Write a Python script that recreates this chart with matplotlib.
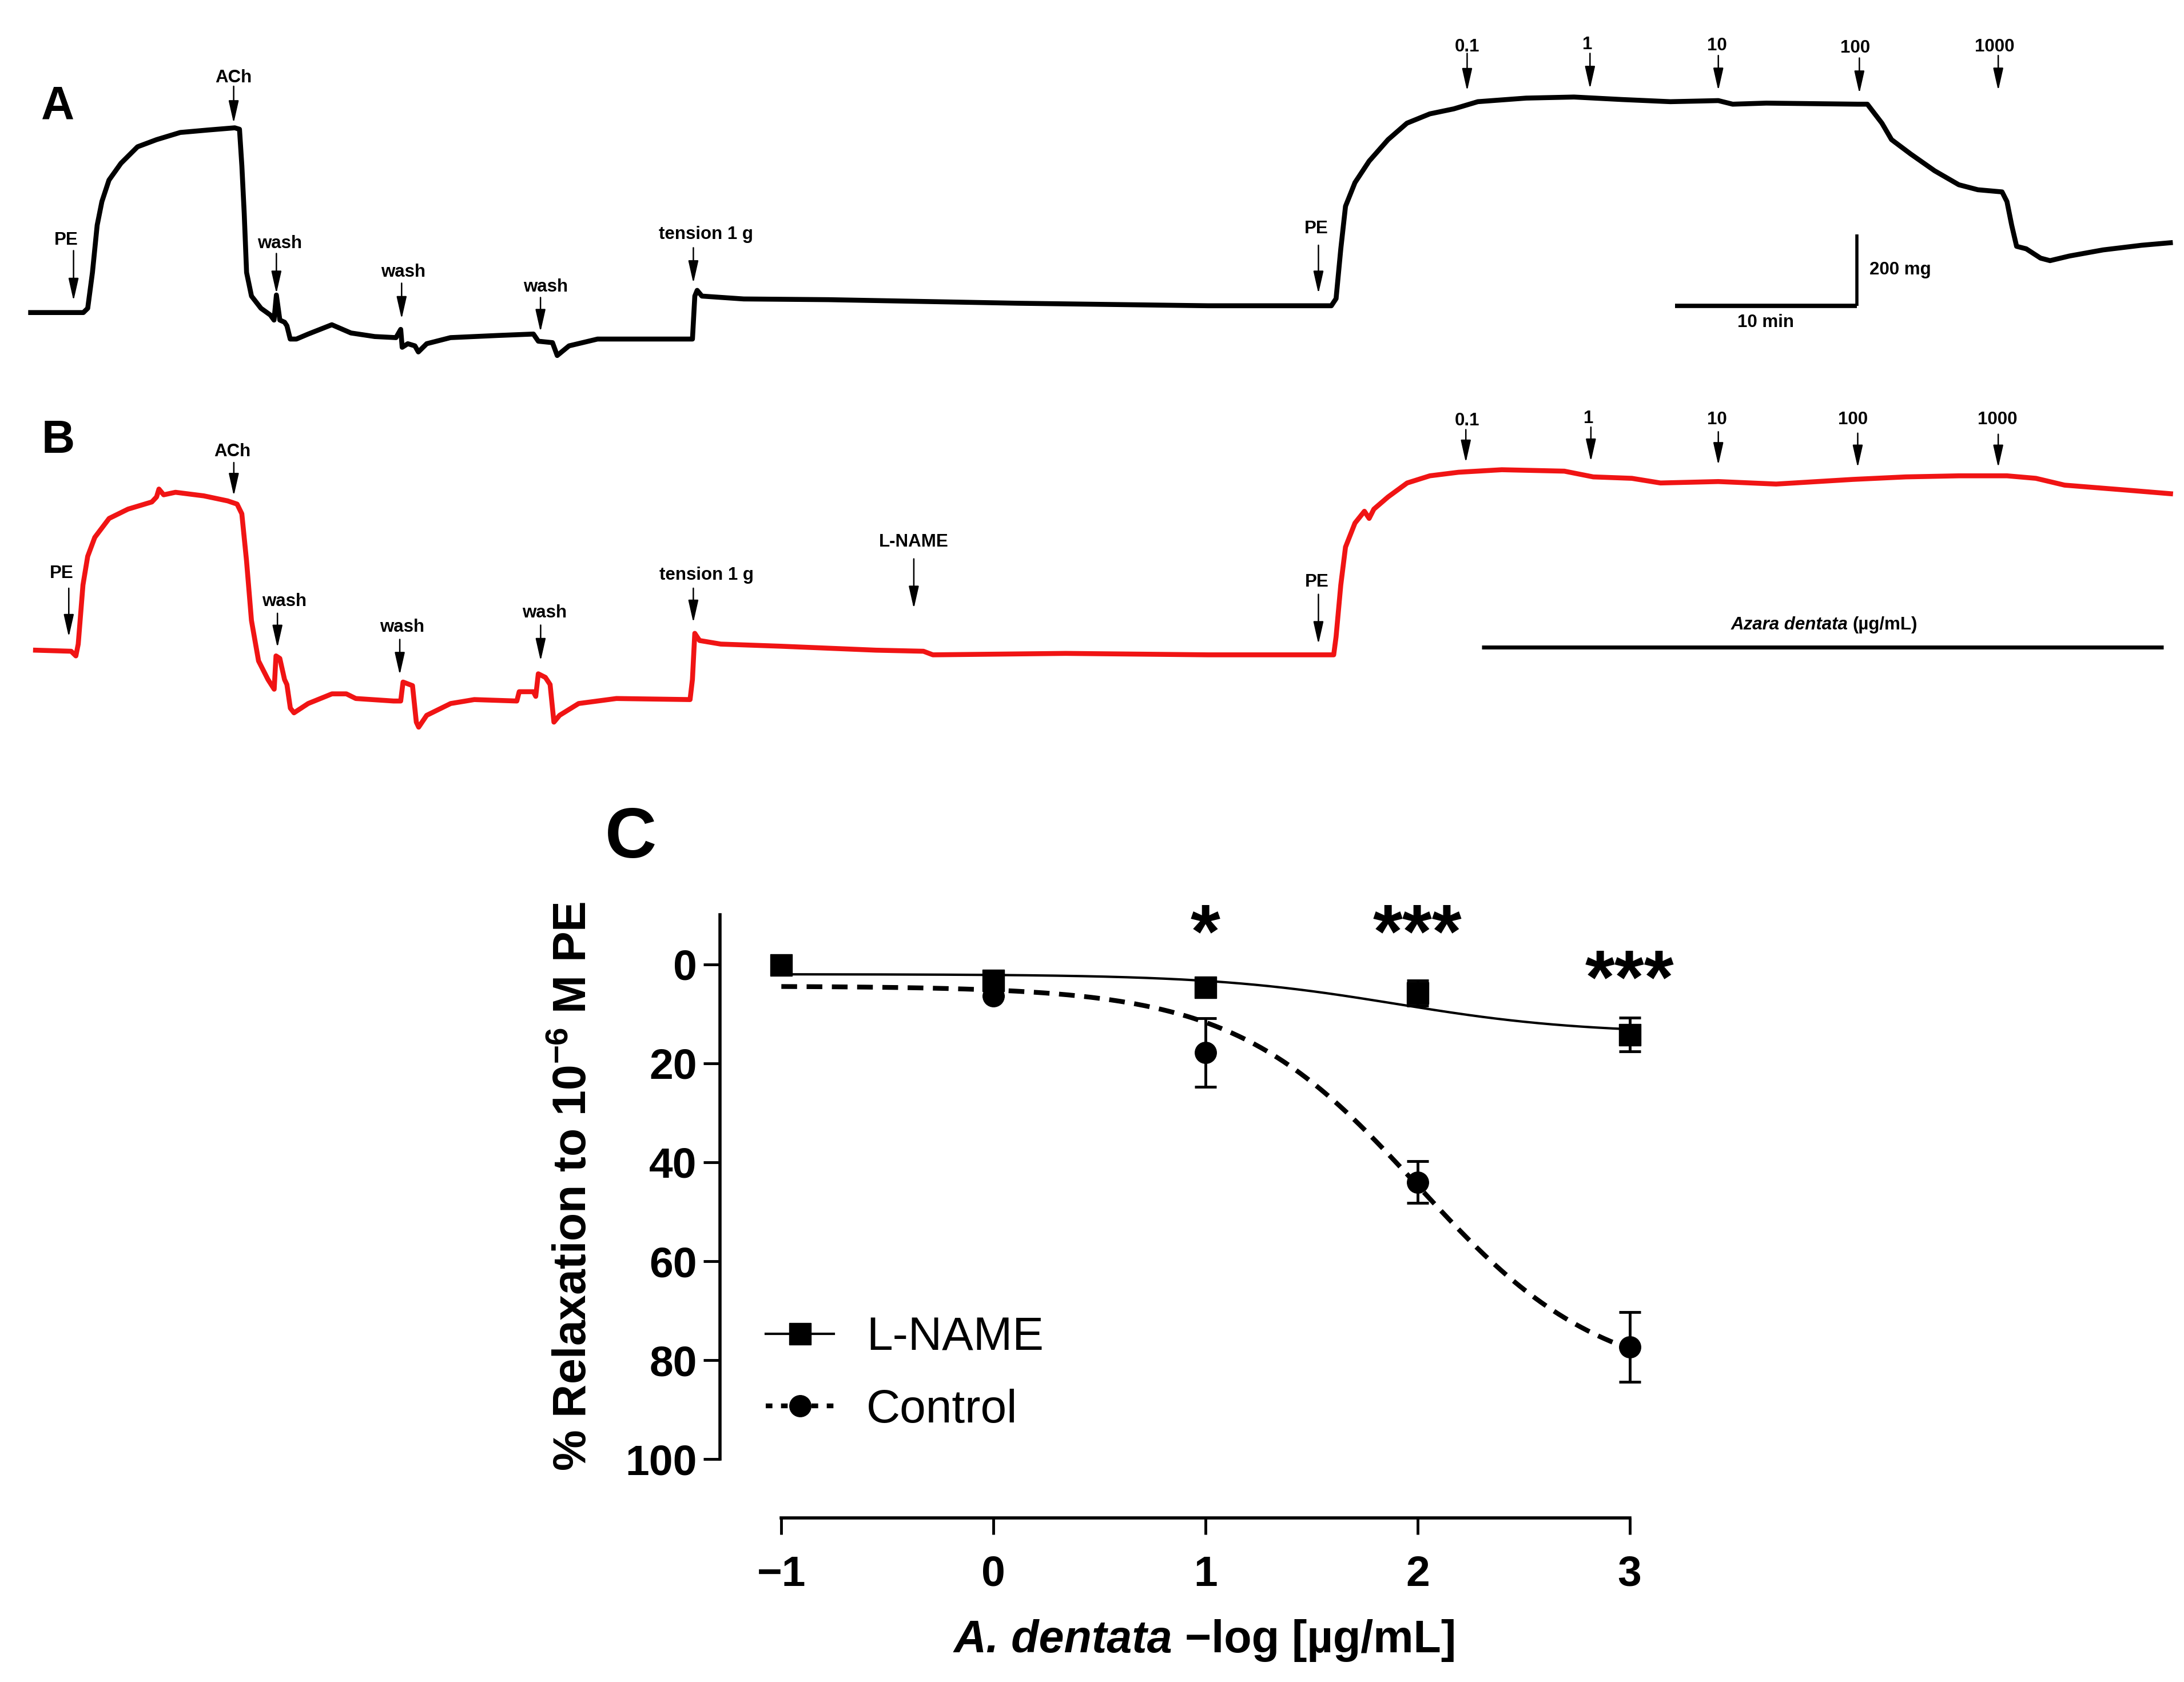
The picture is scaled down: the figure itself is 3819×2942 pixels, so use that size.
import numpy as np
import matplotlib.pyplot as plt
from matplotlib.lines import Line2D
from matplotlib.offsetbox import TextArea, HPacker, AnnotationBbox

plt.rcParams['font.family'] = ['Liberation Sans', 'DejaVu Sans']
plt.rcParams['font.weight'] = 'bold'
plt.rcParams['mathtext.fontset'] = 'custom'
plt.rcParams['mathtext.rm'] = 'Liberation Sans'
plt.rcParams['mathtext.bf'] = 'Liberation Sans:bold'

# --- tracings, time in min, tension in mg ---
trace_a_t = [0.0, 2.9, 3.14, 3.40, 3.66, 3.92, 4.31, 4.97, 5.88, 6.93,
             8.23, 9.79, 11.23, 11.49, 11.62, 11.75, 11.88, 12.15, 12.67, 13.19,
             13.39, 13.52, 13.71, 13.97, 14.10, 14.28, 14.62, 15.27, 16.57, 17.62,
             18.93, 20.10, 20.36, 20.44, 20.75, 21.14, 21.33, 21.79, 23.10, 25.71,
             27.66, 27.93, 28.71, 28.97, 29.62, 31.19, 36.41, 36.54, 36.67, 36.93,
             39.23, 43.89, 54.33, 64.77, 71.56, 71.82, 72.08, 72.34, 72.86, 73.64,
             74.68, 75.72, 76.98, 78.30, 79.62, 82.27, 84.91, 87.56, 90.21, 92.85,
             93.64, 95.49, 100.52, 101.05, 101.85, 102.38, 103.43, 104.75, 106.08, 107.13,
             108.46, 108.73, 108.99, 109.26, 109.79, 110.58, 111.10, 112.17, 114.02, 116.14,
             117.72]
trace_a_mg = [0, 0, 12, 112, 244, 310, 370, 417, 463, 483,
              503, 510, 516, 512, 410, 277, 112, 46, 12, -7,
              -21, 49, -21, -27, -37, -74, -74, -60, -34, -57,
              -67, -70, -47, -97, -87, -93, -110, -87, -70, -64,
              -60, -80, -84, -120, -93, -74, -74, 46, 62, 46,
              38, 36, 26, 19, 19, 39, 178, 297, 363, 423,
              483, 529, 555, 569, 589, 599, 602, 595, 589, 592,
              582, 585, 582, 582, 529, 483, 443, 396, 357, 343,
              337, 310, 244, 185, 178, 152, 145, 158, 175, 188,
              195]

trace_b_t = [0, 1.96, 2.22, 2.35, 2.61, 2.87, 3.26, 4.05, 5.09, 6.40,
             6.66, 6.79, 7.05, 7.70, 9.26, 10.57, 11.09, 11.35, 11.61, 11.88,
             12.27, 12.79, 13.13, 13.23, 13.44, 13.70, 13.83, 14.02, 14.22, 15.00,
             16.31, 17.10, 17.62, 19.70, 20.09, 20.22, 20.74, 20.95, 21.08, 21.52,
             22.84, 24.14, 26.48, 26.61, 27.39, 27.52, 27.66, 28.05, 28.31, 28.52,
             28.83, 29.88, 31.96, 36.01, 36.14, 36.27, 36.53, 37.70, 41.02, 46.24,
             48.85, 49.37, 56.67, 64.50, 71.42, 71.55, 71.81, 72.07, 72.59, 73.11,
             73.37, 73.63, 74.41, 75.46, 76.71, 78.29, 80.67, 84.11, 85.70, 87.82,
             89.40, 92.58, 95.76, 99.99, 102.90, 105.81, 108.46, 110.05, 111.63, 115.07,
             117.46]
trace_b_mg = [0, -3, -16, 17, 182, 262, 315, 368, 394, 414,
              428, 450, 434, 441, 431, 417, 408, 381, 249, 83,
              -30, -82, -109, -16, -23, -82, -96, -162, -175, -149,
              -122, -122, -135, -142, -142, -89, -99, -201, -215, -182,
              -149, -138, -142, -116, -116, -129, -66, -76, -96, -201,
              -182, -149, -135, -138, -82, 47, 27, 17, 11, 0,
              -3, -13, -9, -13, -13, 37, 182, 288, 355, 388,
              368, 394, 428, 467, 487, 497, 504, 500, 484, 480,
              467, 471, 464, 477, 484, 487, 487, 480, 461, 447,
              437]

# events: label, arrow time, arrow top, arrow tip, label time, label baseline
events_a = [('PE', 2.36, 173, 33, 1.97, 190),
            ('ACh', 11.17, 632, 529, 11.15, 643),
            ('wash', 13.52, 165, 53, 13.71, 180),
            ('wash', 20.41, 82, -18, 20.49, 100),
            ('wash', 28.05, 42, -54, 28.32, 58),
            ('tension 1 g', 36.46, 181, 82, 37.16, 205),
            ('PE', 70.85, 188, 53, 70.73, 221),
            ('0.1', 79.03, 724, 619, 79.03, 729),
            ('1', 85.79, 724, 625, 85.66, 736),
            ('10', 92.85, 718, 620, 92.77, 732),
            ('100', 100.61, 711, 612, 100.39, 726),
            ('1000', 108.25, 718, 620, 108.06, 729)]
events_b = [('PE', 1.83, 173, 37, 1.44, 201),
            ('ACh', 10.91, 524, 431, 10.83, 541),
            ('wash', 13.31, 103, 7, 13.70, 124),
            ('wash', 20.04, 30, -69, 20.17, 52),
            ('wash', 27.79, 70, -30, 28.0, 91),
            ('tension 1 g', 36.19, 173, 77, 36.9, 196),
            ('L-NAME', 48.32, 255, 116, 48.32, 290),
            ('PE', 70.58, 156, 17, 70.5, 177),
            ('0.1', 78.69, 616, 524, 78.77, 628),
            ('1', 85.57, 623, 527, 85.44, 634),
            ('10', 92.58, 610, 517, 92.50, 631),
            ('100', 100.25, 606, 510, 99.99, 631),
            ('1000', 107.98, 603, 510, 107.93, 631)]

# scale bars
bar_min = 10
bar_mg = 200
azara_start, azara_end = 79.56, 117.06

# --- concentration-response (panel C) ---
log_conc = [-1, 0, 1, 2, 3]
lname_mean = [0.2, 3.3, 4.7, 5.8, 14.2]
lname_sem = [0, 0, 0, 2.5, 3.4]
control_mean = [0.2, 6.4, 17.8, 44.0, 77.3]
control_sem = [0, 0, 6.9, 4.2, 7.0]
# sigmoid fit: bottom, top, logEC50, hill slope
lname_fit = (2.0, 14.0, 1.9, 1.0)
control_fit = (4.4, 85.0, 2.0, 1.0)
star_x = [1, 2, 3]
star_text = ['*', '***', '***']
star_base = [-1.5, -1.5, 7.8]


def hill(x, bottom, top, logec50, slope):
    return bottom + (top - bottom) / (1 + 10 ** ((logec50 - x) * slope))


fig = plt.figure(figsize=(38.19, 29.42), dpi=100)

arrow_style = '-|>,head_length=0.8,head_width=0.18'


def draw_events(ax, events):
    for lab, t, top, tip, lt, lb in events:
        ax.annotate('', xy=(t, tip), xytext=(t, top),
                    arrowprops=dict(arrowstyle=arrow_style, lw=1.8, color='k',
                                    shrinkA=0, shrinkB=0, mutation_scale=30))
        ax.text(lt, lb, lab, ha='center', va='baseline', fontsize=22.5)


# panel A
ax_a = fig.add_axes([0, 0.7765, 1, 0.2235])
ax_a.set_xlim(-1.686, 118.47)
ax_a.set_ylim(-177, 873)
ax_a.axis('off')
ax_a.plot(trace_a_t, trace_a_mg, color='k', lw=6.2, solid_joinstyle='round')
draw_events(ax_a, events_a)
ax_a.plot([100.46 - bar_min, 100.46], [19, 19], color='k', lw=5.5, solid_capstyle='butt')
ax_a.plot([100.46, 100.46], [19, 19 + bar_mg], color='k', lw=4, solid_capstyle='butt')
ax_a.text(101.15, 119, '200 mg', ha='left', va='center', fontsize=22.5)
ax_a.text(100.46 - bar_min / 2, -27, '10 min', ha='center', va='center', fontsize=22.5)

# panel B
ax_b = fig.add_axes([0, 0.553, 1, 0.2235])
ax_b.set_xlim(-1.954, 118.2)
ax_b.set_ylim(-284, 766)
ax_b.axis('off')
ax_b.plot(trace_b_t, trace_b_mg, color='#f01414', lw=6.2, solid_joinstyle='round')
draw_events(ax_b, events_b)
ax_b.plot([azara_start, azara_end], [9, 9], color='k', lw=5, solid_capstyle='butt')
azara = HPacker(children=[TextArea('Azara dentata', textprops=dict(fontsize=22.5, style='italic')),
                          TextArea('(µg/mL)', textprops=dict(fontsize=22.5))],
                align='baseline', pad=0, sep=6)
ax_b.add_artist(AnnotationBbox(azara, ((azara_start + azara_end) / 2 + 0.1, 70), frameon=False,
                               box_alignment=(0.5, 0.5), annotation_clip=False))

fig.text(0.0265, 0.9366, 'A', ha='center', va='center', fontsize=58)
fig.text(0.0266, 0.7378, 'B', ha='center', va='center', fontsize=58)
fig.text(0.2889, 0.5010, 'C', ha='center', va='center', fontsize=90)

# panel C
ax_c = fig.add_axes([0.3297, 0.0977, 0.4456, 0.3584])
ax_c.set_xlim(-1.289, 3.3)
ax_c.set_ylim(111.8, -10)
xs = np.linspace(-1, 3, 300)
ax_c.plot(xs, hill(xs, *control_fit), color='k', lw=6, ls='--', dashes=(3.3, 2.0))
ax_c.plot(xs, hill(xs, *lname_fit), color='k', lw=3)
ax_c.errorbar(log_conc, control_mean, yerr=control_sem, fmt='none', ecolor='k',
              elinewidth=3.5, capsize=14, capthick=3.5)
ax_c.errorbar(log_conc, lname_mean, yerr=lname_sem, fmt='none', ecolor='k',
              elinewidth=3.5, capsize=14, capthick=3.5)
ax_c.plot(log_conc, control_mean, 'o', color='k', ms=27)
ax_c.plot(log_conc, lname_mean, 's', color='k', ms=27)
for sx, st, sb in zip(star_x, star_text, star_base):
    ax_c.text(sx, sb, st, ha='center', va='baseline', fontsize=96)

for side in ['top', 'right']:
    ax_c.spines[side].set_visible(False)
for side in ['left', 'bottom']:
    ax_c.spines[side].set_linewidth(4)
ax_c.spines['left'].set_bounds(-10, 100)
ax_c.spines['bottom'].set_bounds(-1, 3)
ax_c.set_xticks(log_conc)
ax_c.set_yticks([0, 20, 40, 60, 80, 100])
ax_c.tick_params(axis='both', length=21, width=3.5, direction='out', labelsize=54)
ax_c.tick_params(axis='x', pad=26)
ax_c.tick_params(axis='y', pad=8)

handles = [Line2D([], [], color='k', lw=3, marker='s', ms=27),
           Line2D([], [], color='k', lw=6, ls='--', dashes=(1.4, 1.8), marker='o', ms=27)]
ax_c.legend(handles, ['L-NAME', 'Control'], loc='center left', bbox_to_anchor=(0.047, 0.238),
            frameon=False, borderpad=0, borderaxespad=0, handlelength=1.45,
            handletextpad=0.7, labelspacing=0.62, prop=dict(size=59, weight='normal'))

xlab = HPacker(children=[TextArea('A. dentata', textprops=dict(fontsize=57, style='italic')),
                         TextArea('\u2212log [µg/mL]', textprops=dict(fontsize=57))],
               align='baseline', pad=0, sep=16)
ax_c.add_artist(AnnotationBbox(xlab, (0.5517, 0.0248), xycoords='figure fraction',
                               frameon=False, box_alignment=(0.5, 0.5)))
fig.text(0.2628, 0.2947, r'% Relaxation to 10$^{\mathbf{-6}}$ M PE', rotation=90,
         ha='center', va='center', fontsize=58)

fig.savefig('out.png', dpi=100)
